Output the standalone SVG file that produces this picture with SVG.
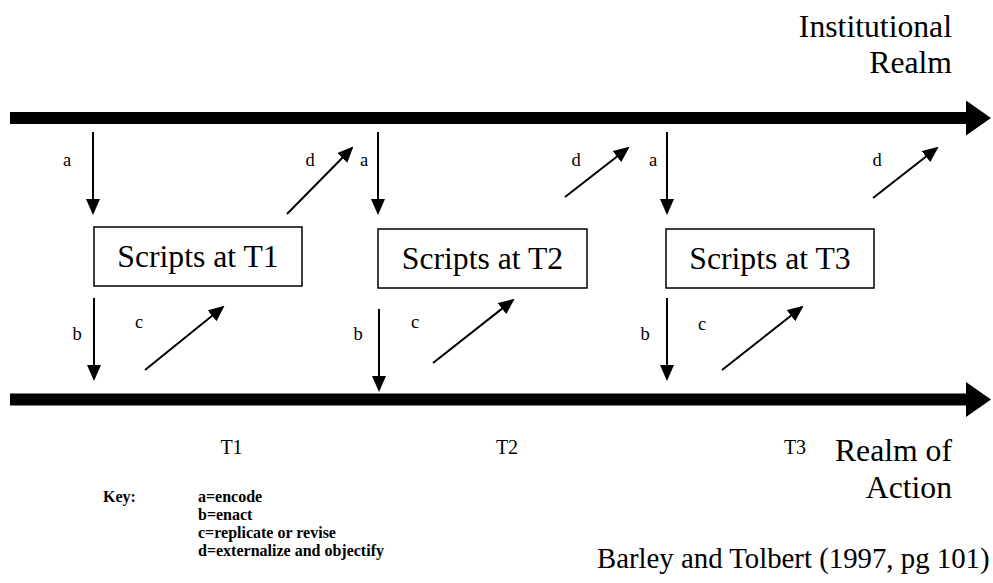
<svg xmlns="http://www.w3.org/2000/svg" width="993" height="583" viewBox="0 0 993 583">
<style>
text{font-family:"Liberation Serif","Times New Roman",serif;fill:#000}
.big{font-size:31.7px}
.lbl{font-size:18.5px}
.tl{font-size:20px}
.key{font-size:16px;font-weight:bold}
.cite{font-size:28.8px}
.box{fill:#fff;stroke:#000;stroke-width:1.5}
.thin{stroke:#000;stroke-width:2;fill:none;marker-end:url(#ah)}
.thick{stroke:#000;stroke-width:12;fill:none;marker-end:url(#bh)}
</style>
<defs>
<marker id="ah" markerUnits="userSpaceOnUse" markerWidth="16" markerHeight="14" refX="14" refY="7" orient="auto" viewBox="0 0 16 14">
<path d="M0,0 L16,7 L0,14 z" fill="#000"/>
</marker>
<marker id="bh" markerUnits="userSpaceOnUse" markerWidth="26" markerHeight="35" refX="2" refY="17.5" orient="auto" viewBox="0 0 26 35">
<path d="M0,0 L25,17.5 L0,35 z" fill="#000"/>
</marker>
</defs>
<g id="connectors">
<line class="thick" x1="10" y1="118" x2="968" y2="118"/>
<line class="thick" x1="10" y1="399.5" x2="968" y2="399.5"/>
<line class="thin" x1="93" y1="132" x2="93" y2="213"/>
<line class="thin" x1="378" y1="132" x2="378" y2="213"/>
<line class="thin" x1="667" y1="132" x2="667" y2="213"/>
<line class="thin" x1="287" y1="214" x2="352" y2="148"/>
<line class="thin" x1="565" y1="197" x2="628" y2="148"/>
<line class="thin" x1="873" y1="198" x2="937" y2="148"/>
<line class="thin" x1="94" y1="298" x2="94" y2="379"/>
<line class="thin" x1="379" y1="309" x2="379" y2="390"/>
<line class="thin" x1="667" y1="298" x2="667" y2="379"/>
<line class="thin" x1="145" y1="370" x2="223" y2="307"/>
<line class="thin" x1="433" y1="363" x2="513" y2="300"/>
<line class="thin" x1="722" y1="370" x2="802" y2="307"/>
<text class="lbl" x="67" y="166" text-anchor="middle">a</text>
<text class="lbl" x="310" y="166" text-anchor="middle">d</text>
<text class="lbl" x="364" y="166" text-anchor="middle">a</text>
<text class="lbl" x="576" y="166" text-anchor="middle">d</text>
<text class="lbl" x="653" y="166" text-anchor="middle">a</text>
<text class="lbl" x="877" y="166" text-anchor="middle">d</text>
<text class="lbl" x="77" y="340" text-anchor="middle">b</text>
<text class="lbl" x="358" y="340" text-anchor="middle">b</text>
<text class="lbl" x="645" y="340" text-anchor="middle">b</text>
<text class="lbl" x="139" y="328" text-anchor="middle">c</text>
<text class="lbl" x="415" y="328" text-anchor="middle">c</text>
<text class="lbl" x="702" y="330" text-anchor="middle">c</text>
</g>
<g id="node-t1">
<rect class="box" x="94" y="227" width="208" height="59"/>
<text class="big" x="198" y="267" text-anchor="middle">Scripts at T1</text>
</g>
<g id="node-t2">
<rect class="box" x="378" y="229" width="209" height="59"/>
<text class="big" x="482.5" y="269" text-anchor="middle">Scripts at T2</text>
</g>
<g id="node-t3">
<rect class="box" x="666" y="229" width="208" height="59"/>
<text class="big" x="770" y="269" text-anchor="middle">Scripts at T3</text>
</g>
<g id="realm-institutional">
<text class="big" x="952" y="37" text-anchor="end">Institutional</text>
<text class="big" x="952" y="73" text-anchor="end">Realm</text>
</g>
<g id="realm-action">
<text class="big" x="952" y="461" text-anchor="end">Realm of</text>
<text class="big" x="952" y="498" text-anchor="end">Action</text>
</g>
<g id="time-labels">
<text class="tl" x="231.5" y="454" text-anchor="middle">T1</text>
<text class="tl" x="507" y="454" text-anchor="middle">T2</text>
<text class="tl" x="795" y="454" text-anchor="middle">T3</text>
</g>
<g id="key">
<text class="key" x="103" y="502">Key:</text>
<text class="key" x="198" y="502">a=encode</text>
<text class="key" x="198" y="520">b=enact</text>
<text class="key" x="198" y="538">c=replicate or revise</text>
<text class="key" x="198" y="556">d=externalize and objectify</text>
</g>
<g id="citation">
<text class="cite" x="597" y="568">Barley and Tolbert (1997, pg 101)</text>
</g>
</svg>
